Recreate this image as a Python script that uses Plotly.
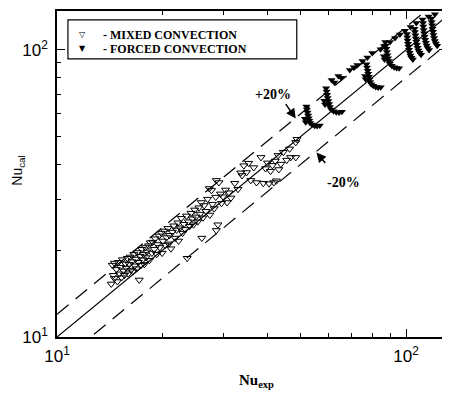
import math
import plotly.graph_objects as go

# ---- data ----
mixed_nu_exp = [14.3,14.4,14.5,14.6,14.6,14.8,14.9,15.0,15.1,15.2,15.3,15.4,15.5,15.6,15.7,
    15.8,15.9,16.0,16.1,16.2,16.3,16.4,16.5,16.6,16.7,16.8,16.9,17.0,17.1,17.2,17.3,17.4,17.5,17.6,17.7,17.8,17.9,18.0,18.1,
    18.3,18.4,18.5,18.7,18.8,19.0,19.1,19.3,19.4,19.6,19.7,19.9,20.0,20.1,20.3,20.4,20.6,20.8,20.9,21.0,21.2,21.4,
    21.6,21.8,22.0,22.2,22.3,22.5,22.7,22.9,23.1,23.3,23.5,23.6,23.8,24.0,24.2,24.4,24.6,24.8,25.0,
    25.3,25.5,25.7,25.9,26.0,26.2,26.4,26.7,27.0,27.3,27.4,27.7,27.9,28.2,28.5,28.6,28.6,28.9,29.1,29.4,29.6,29.9,
    30.4,30.7,31.1,31.5,32.3,33.0,33.6,33.9,34.3,34.9,35.4,35.9,36.6,37.3,38.4,39.0,39.6,40.1,40.5,40.9,41.4,41.8,42.2,42.5,43.0,43.2,43.8,
    44.5,45.5,46.4,46.7,48.3,48.3,48.7]
mixed_nu_cal = [15.3,17.8,16.4,18.1,16.0,17.2,15.6,18.2,16.6,17.5,16.1,18.6,17.0,16.4,18.0,
    17.4,18.8,16.6,17.9,19.0,17.1,18.3,16.9,19.4,17.7,18.7,17.3,19.7,18.2,15.8,19.1,17.8,20.2,18.6,19.4,17.9,20.5,18.9,19.8,
    20.8,18.5,21.3,19.6,21.4,20.2,22.0,19.4,21.0,22.5,20.5,23.0,19.6,21.6,23.4,20.9,22.2,23.9,21.1,22.6,20.3,23.2,
    24.4,22.1,23.6,25.0,21.6,24.0,25.9,23.0,24.7,23.7,26.4,18.8,25.2,24.3,27.0,25.8,24.6,27.7,26.2,
    25.2,28.2,26.8,29.4,22.1,26.0,28.7,27.4,30.2,32.9,26.6,32.4,29.0,28.0,30.7,23.5,35.1,24.6,34.5,31.5,29.2,30.8,
    32.5,29.4,31.8,30.5,34.3,32.7,37.3,36.5,39.5,37.4,40.3,35.1,38.9,34.5,42.2,34.3,38.6,40.4,34.2,37.8,39.6,34.5,41.0,35.0,42.9,38.3,40.0,
    44.0,41.3,45.2,42.2,47.6,42.2,48.8]

forced_nu_exp = [
    51.8,52.0,52.2,52.4,52.6,52.8,53.1,53.8,54.7,55.6,56.6,51.3,51.6,
    59.0,59.2,59.4,59.6,59.9,60.2,60.5,61.0,62.0,63.1,64.3,65.5,58.3,58.6,
    61.2,62.3,64.0,65.2,69.0,70.8,72.5,75.0,77.5,80.0,
    77.0,77.3,77.6,77.9,78.2,78.5,78.9,79.5,80.6,81.9,83.2,84.6,76.3,76.6,
    87.2,87.5,87.8,88.1,88.4,88.8,89.2,89.8,91.0,92.4,93.9,95.5,86.4,86.8,
    84.5,86.5,90.0,93.0,96.0,99.3,103.0,107.0,111.5,116.0,121.0,
    100.6,100.8,101.0,101.3,101.6,102.0,102.4,102.9,103.6,104.6,
    105.8,106.0,106.3,106.6,107.0,107.4,107.9,108.5,109.3,110.4,
    111.8,112.0,112.3,112.6,113.0,113.4,113.9,114.5,115.3,116.4,
    118.2,118.4,118.7,119.0,119.4,119.8,120.3,120.9,121.7,122.8]
forced_nu_cal = [
    63.5,62.0,60.5,59.1,57.8,56.6,55.6,54.9,54.4,54.3,54.5,57.5,56.0,
    73.5,71.6,69.8,68.0,66.3,64.7,63.2,62.0,61.1,60.6,60.5,60.8,66.5,64.5,
    78.5,77.0,81.0,80.0,85.0,87.0,88.5,91.5,94.0,97.5,
    89.0,86.8,84.6,82.6,80.6,78.8,77.2,75.9,74.9,74.2,73.9,74.0,81.0,79.0,
    106.5,103.6,100.9,98.3,95.8,93.5,91.4,89.5,88.0,87.0,86.4,86.2,95.0,92.6,
    100.5,103.0,106.5,110.0,113.0,116.4,120.0,124.0,127.5,130.5,133.0,
    113.5,110.5,107.7,105.0,102.4,100.0,97.7,95.6,93.8,92.6,
    118.5,115.3,112.3,109.4,106.7,104.1,101.7,99.5,97.6,96.2,
    124.0,120.6,117.3,114.2,111.3,108.5,105.9,103.5,101.4,99.8,
    128.5,125.0,121.7,118.5,115.5,112.6,109.9,107.4,105.2,103.4]

axis_min = 10
x_axis_max = 131
y_axis_max = 136.5
line_factors = [1.0, 1.2, 0.8]
major_ticks = [10, 100]
major_labels = ["10<sup>1</sup>", "10<sup>2</sup>"]
minor_ticks = [20, 30, 40, 50, 60, 70, 80, 90]
legend_labels = ["- MIXED CONVECTION", "- FORCED CONVECTION"]
legend_symbols = ["\u25BD", "\u25BC"]

# page pixel -> paper fraction helpers (plot area: x 57..449, y 10..337 on the page)
def px(X):
    return (X - 57) / 392.0

def py(Y):
    return (337 - Y) / 327.0

SERIF = "Liberation Serif, Times New Roman, serif"
SANS = "Liberation Sans, Arial, sans-serif"

fig = go.Figure()

for f in line_factors:
    xs = [axis_min, x_axis_max]
    fig.add_trace(go.Scatter(
        x=xs, y=[v * f for v in xs], mode="lines", showlegend=False,
        line=dict(color="black", width=1.2, dash="solid" if f == 1.0 else "15px,9px"),
        hoverinfo="skip"))

fig.add_trace(go.Scatter(
    x=mixed_nu_exp, y=mixed_nu_cal, mode="markers", name=legend_labels[0], showlegend=False,
    marker=dict(symbol="triangle-down-open", size=7, color="black", line=dict(width=1))))
fig.add_trace(go.Scatter(
    x=forced_nu_exp, y=forced_nu_cal, mode="markers", name=legend_labels[1], showlegend=False,
    marker=dict(symbol="triangle-down", size=7, color="black", line=dict(width=0))))

axis_common = dict(
    type="log", showgrid=False, zeroline=False,
    showline=True, linecolor="black", linewidth=1.5, mirror="ticks",
    ticks="inside", ticklen=8, tickwidth=1, tickcolor="black",
    tickvals=major_ticks, ticktext=major_labels,
    tickfont=dict(family=SANS, size=17, color="black"),
    minor=dict(tickvals=minor_ticks, ticks="inside", ticklen=4, tickcolor="black", tickwidth=1),
)

# the page body has an 8px margin, so the figure is 8px smaller and margins shifted
fig.update_layout(
    width=442, height=390,
    margin=dict(l=49, r=1, t=2, b=61),
    paper_bgcolor="white", plot_bgcolor="white",
    xaxis=dict(axis_common, range=[math.log10(axis_min), math.log10(x_axis_max)], ticklabelstandoff=3),
    yaxis=dict(axis_common, range=[math.log10(axis_min), math.log10(y_axis_max)], ticklabelstandoff=4),
    showlegend=False,
)

# legend box and entries
fig.add_shape(type="rect", xref="paper", yref="paper",
              x0=px(68), x1=px(298), y0=py(58), y1=py(19),
              line=dict(color="black", width=1.2), fillcolor="rgba(0,0,0,0)")
for i, (sym, lab) in enumerate(zip(legend_symbols, legend_labels)):
    yy = 34 + 14 * i
    fig.add_annotation(text=sym, xref="paper", yref="paper", x=px(83), y=py(yy),
                       xanchor="center", yanchor="middle", showarrow=False,
                       font=dict(family="DejaVu Sans", size=8, color="black"))
    fig.add_annotation(text="<b>" + lab + "</b>", xref="paper", yref="paper", x=px(101), y=py(yy),
                       xanchor="left", yanchor="middle", showarrow=False,
                       font=dict(family=SERIF, size=12, color="black"))

# axis titles
fig.add_annotation(text="<b>Nu<sub>exp</sub></b>", xref="paper", yref="paper",
                   x=px(258), y=py(381), xanchor="center", yanchor="middle", showarrow=False,
                   font=dict(family=SERIF, size=15, color="black"))
fig.add_annotation(text="Nu<sub>cal</sub>", xref="paper", yref="paper",
                   x=px(17), y=py(170), xanchor="center", yanchor="middle", showarrow=False, textangle=-90,
                   font=dict(family=SANS, size=14, color="black"))

# +20% / -20% labels with arrows
fig.add_annotation(text="<b>+20%</b>", xref="paper", yref="paper", x=px(274), y=py(94),
                   xanchor="center", yanchor="middle", showarrow=False,
                   font=dict(family=SERIF, size=14, color="black"))
fig.add_annotation(text="", x=math.log10(48.3), y=math.log10(57.6), ax=-11, ay=-16,
                   showarrow=True, arrowhead=2, arrowsize=1.3, arrowwidth=1.5, arrowcolor="black")
fig.add_annotation(text="<b>-20%</b>", xref="paper", yref="paper", x=px(345), y=py(182),
                   xanchor="center", yanchor="middle", showarrow=False,
                   font=dict(family=SERIF, size=14, color="black"))
fig.add_annotation(text="", x=math.log10(55.4), y=math.log10(43.9), ax=10, ay=12,
                   showarrow=True, arrowhead=2, arrowsize=1.3, arrowwidth=1.5, arrowcolor="black")

fig.write_html("out.html")
